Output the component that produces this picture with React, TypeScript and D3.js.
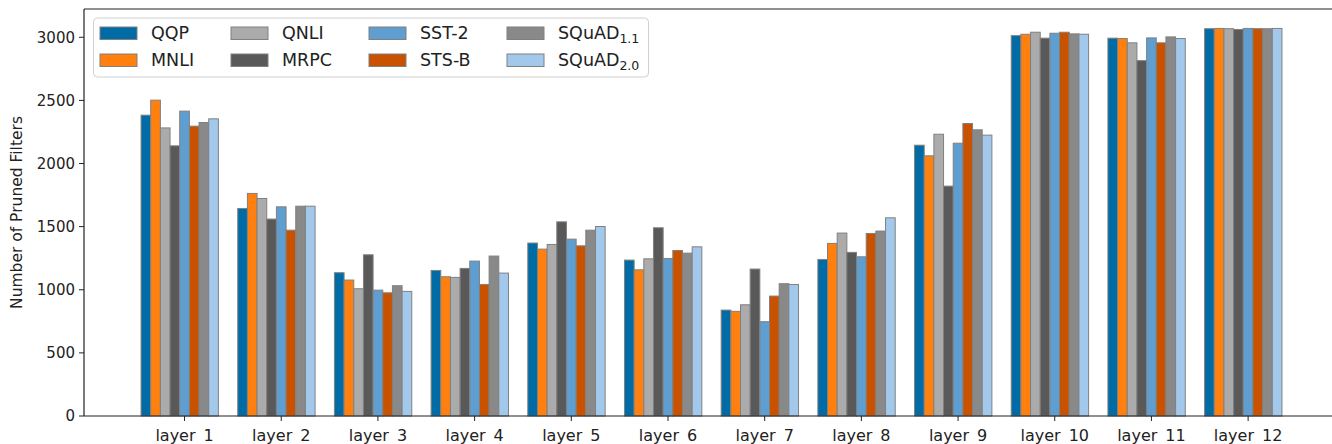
import React from "react";
import * as d3 from "d3";

const layers = [
  "layer_1", "layer_2", "layer_3", "layer_4", "layer_5", "layer_6",
  "layer_7", "layer_8", "layer_9", "layer_10", "layer_11", "layer_12",
];

const qqp = [2383, 1644, 1135, 1153, 1370, 1235, 839, 1240, 2145, 3013, 2993, 3068];
const mnli = [2502, 1763, 1077, 1103, 1322, 1158, 829, 1367, 2061, 3024, 2990, 3070];
const qnli = [2282, 1723, 1008, 1098, 1359, 1245, 881, 1449, 2232, 3040, 2956, 3068];
const mrpc = [2140, 1560, 1277, 1169, 1538, 1491, 1164, 1296, 1821, 2993, 2815, 3062];
const sst2 = [2415, 1657, 997, 1227, 1401, 1248, 747, 1261, 2161, 3032, 2995, 3070];
const stsb = [2296, 1472, 976, 1042, 1348, 1311, 950, 1446, 2317, 3040, 2956, 3068];
const squad11 = [2325, 1662, 1032, 1267, 1472, 1290, 1048, 1465, 2267, 3027, 3003, 3068];
const squad20 = [2354, 1662, 987, 1132, 1501, 1340, 1042, 1570, 2225, 3024, 2990, 3070];

const yTicks = [0, 500, 1000, 1500, 2000, 2500, 3000];

const series = [
  { name: "QQP", sub: "", color: "#006BA4", values: qqp },
  { name: "MNLI", sub: "", color: "#FF800E", values: mnli },
  { name: "QNLI", sub: "", color: "#ABABAB", values: qnli },
  { name: "MRPC", sub: "", color: "#595959", values: mrpc },
  { name: "SST-2", sub: "", color: "#5F9ED1", values: sst2 },
  { name: "STS-B", sub: "", color: "#C85200", values: stsb },
  { name: "SQuAD", sub: "1.1", color: "#898989", values: squad11 },
  { name: "SQuAD", sub: "2.0", color: "#A2C8EC", values: squad20 },
];

const W = 1332;
const H = 444;
const font = "DejaVu Sans, sans-serif";

export default function App() {
  const x = d3.scaleLinear().domain([-1.04, 11.94]).range([84, 1339]);
  const y = d3.scaleLinear().domain([0, 3224]).range([416, 9]);
  const barW = 0.1;
  const bw = x(barW) - x(0);

  const legendCols = [100, 231, 369, 507];
  const legendRows = [33, 60];

  return (
    <div style={{ position: "absolute", left: 0, top: 0 }}>
      <svg width={W} height={H} style={{ display: "block", fontFamily: font }}>
        <rect width={W} height={H} fill="#fff" />
        {series.map((s, si) => (
          <g key={si}>
            {s.values.map((v, li) => (
              <rect
                key={li}
                x={x(li + (si - 4) * barW - barW / 2)}
                y={y(v)}
                width={bw}
                height={y(0) - y(v)}
                fill={s.color}
                stroke="#808080"
                strokeWidth={1}
              />
            ))}
          </g>
        ))}
        {/* spines */}
        <line x1={84} x2={84} y1={9} y2={416} stroke="#222" strokeWidth={1.2} />
        <line x1={84} x2={1339} y1={416} y2={416} stroke="#222" strokeWidth={1.2} />
        <line x1={84} x2={1339} y1={9} y2={9} stroke="#222" strokeWidth={1.2} />
        <line x1={1339} x2={1339} y1={9} y2={416} stroke="#222" strokeWidth={1.2} />
        {/* y ticks */}
        {yTicks.map((t) => (
          <g key={t} transform={`translate(84,${y(t)})`}>
            <line x1={-5} x2={0} stroke="#222" strokeWidth={1} />
            <text x={-9} dy="0.36em" textAnchor="end" fontSize={15} fill="#222">
              {t}
            </text>
          </g>
        ))}
        {/* x ticks */}
        {layers.map((l, i) => (
          <g key={l} transform={`translate(${x(i)},416)`}>
            <line y1={0} y2={5} stroke="#222" strokeWidth={1} />
            <text y={25} textAnchor="middle" fontSize={16} fill="#222">
              {l}
            </text>
          </g>
        ))}
        <text
          transform={`translate(22,${(9 + 416) / 2}) rotate(-90)`}
          textAnchor="middle"
          fontSize={15.5}
          fill="#222"
        >
          Number of Pruned Filters
        </text>
        {/* legend */}
        <rect x={93.5} y={18} width={555} height={59} rx={4} fill="#fff" fillOpacity={0.85} stroke="#d0d0d0" strokeWidth={1} />
        {series.map((s, si) => {
          const cx = legendCols[Math.floor(si / 2)];
          const cy = legendRows[si % 2];
          return (
            <g key={si}>
              <rect x={cx} y={cy - 6} width={37} height={12.5} fill={s.color} stroke="#808080" strokeWidth={1} />
              <text x={cx + 51} y={cy} dy="0.36em" fontSize={17.5} fill="#222">
                {s.name}
                {s.sub && (
                  <tspan fontSize={12.5} dy="4">
                    {s.sub}
                  </tspan>
                )}
              </text>
            </g>
          );
        })}
      </svg>
    </div>
  );
}
